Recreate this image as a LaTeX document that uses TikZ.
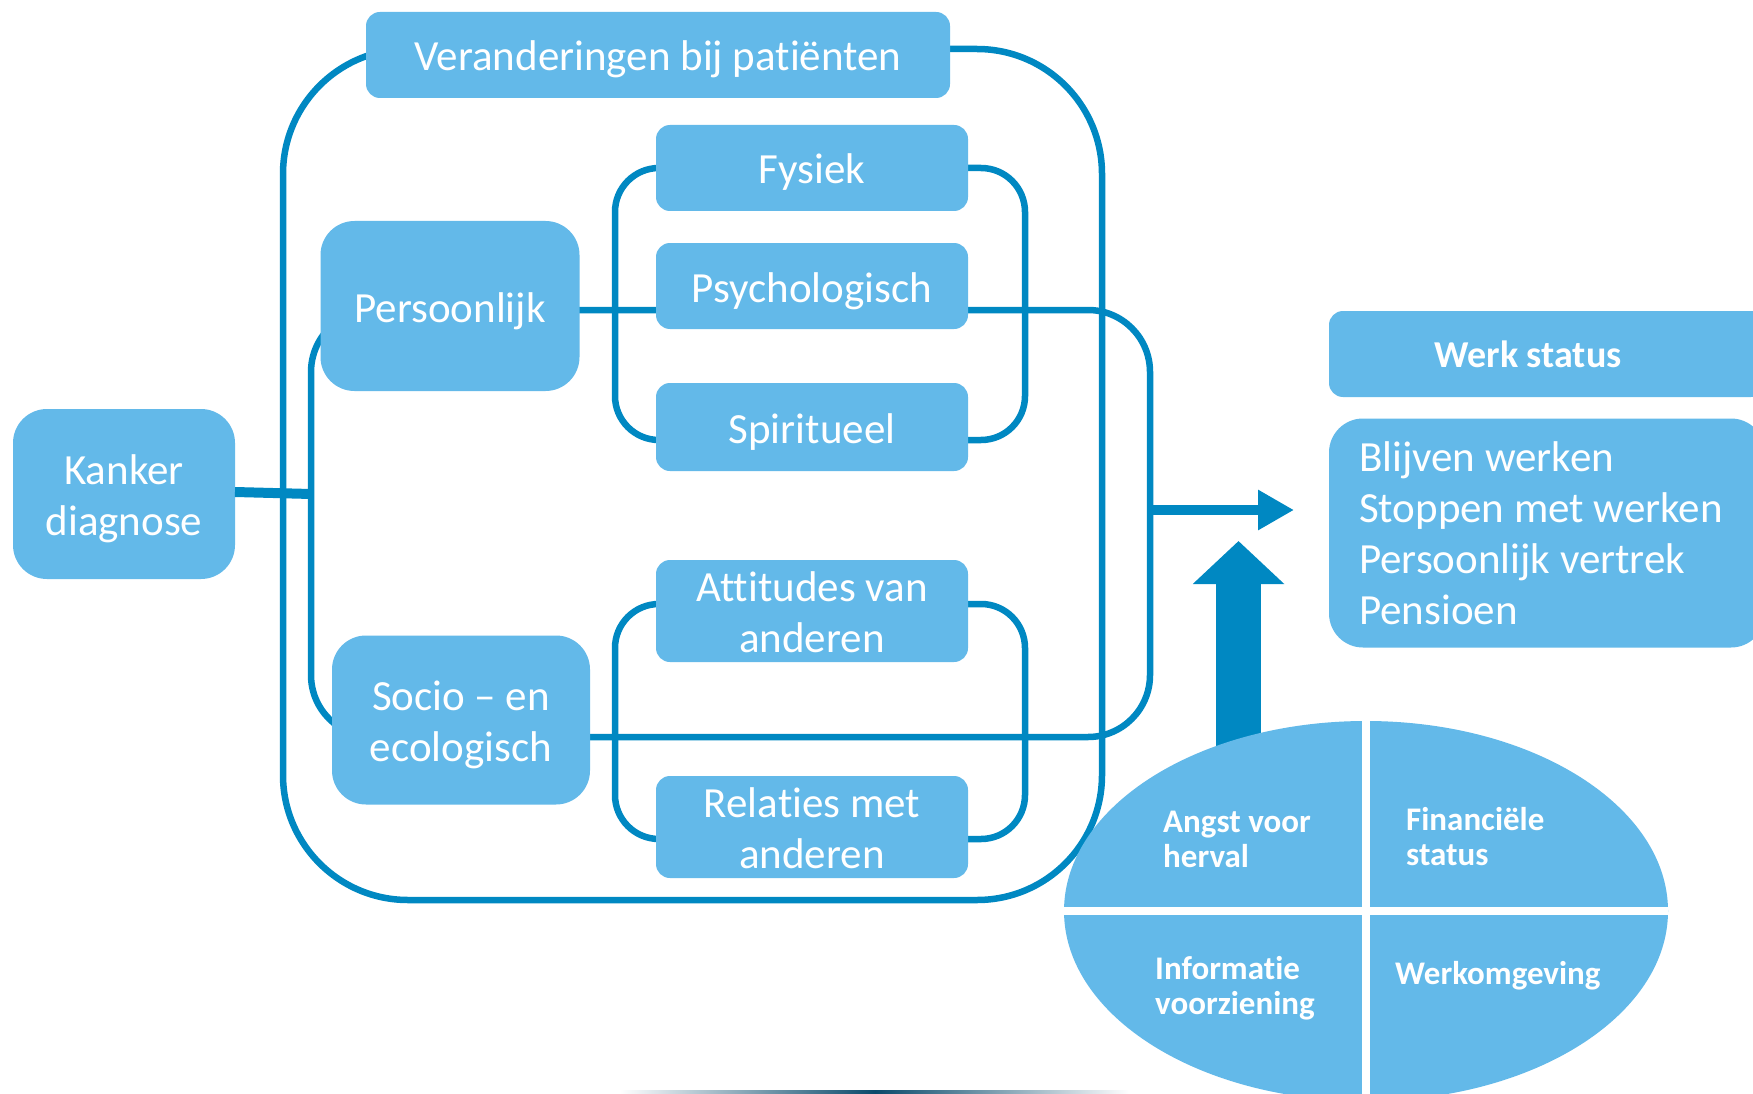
\documentclass[tikz,border=0pt]{standalone}
\usepackage{fontspec}
\setmainfont{Carlito}[Ligatures=NoCommon]
\usetikzlibrary{shapes.geometric,arrows.meta}
\definecolor{boxblue}{HTML}{63B9E9}
\definecolor{lineblue}{HTML}{0088C2}
\definecolor{navyline}{HTML}{0B4A6B}
\begin{document}
\begin{tikzpicture}[x=1pt,y=-1pt,
  box/.style={fill=boxblue, draw=none, rounded corners=14pt, text=white,
    font=\fontsize{43}{51}\selectfont, align=center, inner sep=0pt, outer sep=0pt},
  bigbox/.style={box, rounded corners=34pt},
  oneline/.style={text height=35pt, text depth=3pt},
  twoline/.style={text height=86pt, text depth=3pt},
  frameline/.style={draw=lineblue, line width=6.5pt},
  thickline/.style={draw=lineblue, line width=10pt},
  elltext/.style={text=white, font=\bfseries\fontsize{33}{35}\selectfont, align=left, anchor=west, inner sep=0pt},
  divider/.style={draw=white, line width=8pt}
]
\useasboundingbox (0,0) rectangle (1753,1094);
\clip (0,0) rectangle (1753,1094);
\fill[white] (0,0) rectangle (1753,1094);

% frames
\draw[frameline, rounded corners=125pt] (283,49) rectangle (1102,900);
\draw[frameline, rounded corners=62pt] (311,310) rectangle (1150,737);
\draw[frameline, rounded corners=44pt] (615,168) rectangle (1025,440);
\draw[frameline, rounded corners=44pt] (615,604) rectangle (1025,839);

% nodes
\node[box, oneline, minimum width=584pt, minimum height=86pt] (ver) at (658,55) {Veranderingen bij patiënten};
\node[box, oneline, minimum width=312pt, minimum height=86pt] (fys) at (812,168) {Fysiek};
\node[box, oneline, minimum width=312pt, minimum height=86pt] (psy) at (812,286) {Psychologisch};
\node[box, oneline, minimum width=312pt, minimum height=88pt] (spi) at (812,427) {Spiritueel};
\node[bigbox, oneline, minimum width=259pt, minimum height=170pt] (per) at (450,306) {Persoonlijk};
\node[bigbox, twoline, minimum width=222pt, minimum height=170pt] (kan) at (124,494) {Kanker\\diagnose};
\node[bigbox, twoline, minimum width=258pt, minimum height=169pt] (soc) at (461,720) {Socio – en\\ecologisch};
\node[box, twoline, minimum width=312pt, minimum height=102pt] (att) at (812,611) {Attitudes van\\anderen};
\node[box, twoline, minimum width=312pt, minimum height=102pt] (rel) at (812,827) {Relaties met\\anderen};
\node[box, font=\bfseries\fontsize{38}{46}\selectfont, minimum width=436pt, minimum height=86pt] (werk) at (1547,354) {\hspace*{-38pt}Werk status};
\node[bigbox, minimum width=436pt, minimum height=229pt, text width=376pt, inner xsep=30pt, align=flush left] (lst) at (1547,533)
  {Blijven werken\\Stoppen met werken\\Persoonlijk vertrek\\Pensioen};

% connectors
\coordinate (midleft) at (311,494);
\coordinate (midright) at (1150,510);
\draw[thickline] (kan.east |- 0,492) -- (midleft);
\draw[thickline, -{Triangle[length=36pt,width=38pt]}] (midright) -- (1294,510);
\coordinate (upbase) at (1238.5,760);
\coordinate (uptip) at (1238.5,541);
\draw[draw=lineblue, line width=45pt, -{Triangle[length=43pt,width=89pt]}] (upbase) -- (uptip);

% ellipse
\node[ellipse, fill=boxblue, draw=none, minimum width=604pt, minimum height=380pt, inner sep=0pt, outer sep=0pt] (ell) at (1366,911) {};
\draw[divider] (ell.north) -- (ell.south);
\draw[divider] (ell.west) -- (ell.east);
\node[elltext] (angst) at (1163,839) {Angst voor\\herval};
\node[elltext] (fin) at (1406,837) {Financiële\\status};
\node[elltext] (info) at (1155,988) {Informatie\\voorziening};
\node[elltext] (wo) at (1395,976) {Werkomgeving};

% bottom line
\shade[left color=white, right color=white, middle color=navyline] (620,1090) rectangle (1130,1094);
\end{tikzpicture}
\end{document}
